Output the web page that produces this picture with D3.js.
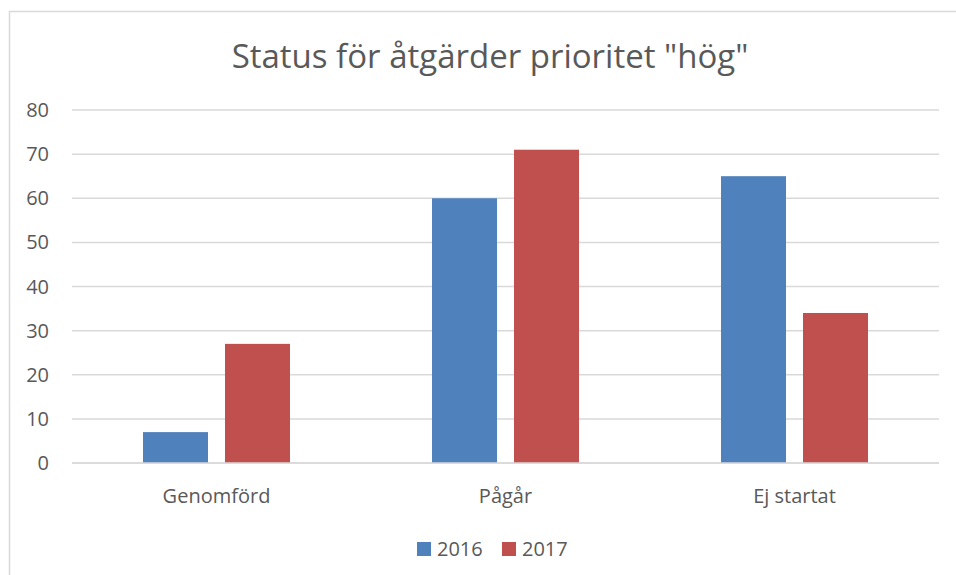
<!DOCTYPE html>
<html>
<head>
<meta charset="utf-8">
<script src="https://cdn.jsdelivr.net/npm/d3@7"></script>
<style>
  body { margin: 0; background: #fff; }
  text { font-family: "Open Sans", "Liberation Sans", sans-serif; fill: #595959; }
</style>
</head>
<body>
<script>
const categories = ["Genomförd", "Pågår", "Ej startat"];
const seriesNames = ["2016", "2017"];
const values2016 = [7, 60, 65];
const values2017 = [27, 71, 34];
const yTicks = [0, 10, 20, 30, 40, 50, 60, 70, 80];
const colors = ["#4F81BD", "#C0504D"];

const width = 956,
  height = 575,
  plot = { left: 72, right: 939, top: 110, bottom: 463 };

const svg = d3.select("body")
  .append("svg")
  .attr("width", width)
  .attr("height", height);

// chart frame (cropped on the right and bottom)
svg.append("rect")
  .attr("x", 9.5)
  .attr("y", 11.5)
  .attr("width", 1000)
  .attr("height", 700)
  .attr("fill", "#fff")
  .attr("stroke", "#D9D9D9")
  .attr("stroke-width", 1.5);

svg.append("text")
  .attr("x", 490)
  .attr("y", 68)
  .attr("text-anchor", "middle")
  .style("font-size", "33px")
  .text('Status för åtgärder prioritet "hög"');

const x = d3.scaleBand()
  .domain(categories)
  .range([plot.left, plot.right]);

const y = d3.scaleLinear()
  .domain([0, 80])
  .range([plot.bottom, plot.top]);

// gridlines
svg.append("g")
  .selectAll("line")
  .data(yTicks)
  .enter()
  .append("line")
  .attr("x1", plot.left)
  .attr("x2", plot.right)
  .attr("y1", d => y(d))
  .attr("y2", d => y(d))
  .attr("stroke", "#D9D9D9")
  .attr("stroke-width", 1.5);

// y labels
svg.append("g")
  .selectAll("text")
  .data(yTicks)
  .enter()
  .append("text")
  .attr("x", 49)
  .attr("y", d => y(d) + 7)
  .attr("text-anchor", "end")
  .style("font-size", "20px")
  .text(d => d);

const barWidth = 65, gap = 17;
const series = [values2016, values2017];

series.forEach((vals, s) => {
  svg.append("g")
    .selectAll("rect")
    .data(vals)
    .enter()
    .append("rect")
    .attr("x", (d, i) => x(categories[i]) + x.bandwidth() / 2 - (barWidth * 2 + gap) / 2 + s * (barWidth + gap))
    .attr("y", d => y(d))
    .attr("width", barWidth)
    .attr("height", d => y(0) - y(d))
    .attr("fill", colors[s]);
});

// baseline over bars
svg.append("line")
  .attr("x1", plot.left)
  .attr("x2", plot.right)
  .attr("y1", y(0))
  .attr("y2", y(0))
  .attr("stroke", "#D9D9D9")
  .attr("stroke-width", 1.5);

// category labels
svg.append("g")
  .selectAll("text")
  .data(categories)
  .enter()
  .append("text")
  .attr("x", d => x(d) + x.bandwidth() / 2)
  .attr("y", 503)
  .attr("text-anchor", "middle")
  .style("font-size", "20px")
  .text(d => d);

// legend
const legend = svg.append("g")
  .selectAll("g")
  .data(seriesNames)
  .enter()
  .append("g")
  .attr("transform", (d, i) => `translate(${417 + i * 85}, 542)`);

legend.append("rect")
  .attr("width", 14)
  .attr("height", 14)
  .attr("fill", (d, i) => colors[i]);

legend.append("text")
  .attr("x", 20)
  .attr("y", 14)
  .style("font-size", "20px")
  .text(d => d);
</script>
</body>
</html>
